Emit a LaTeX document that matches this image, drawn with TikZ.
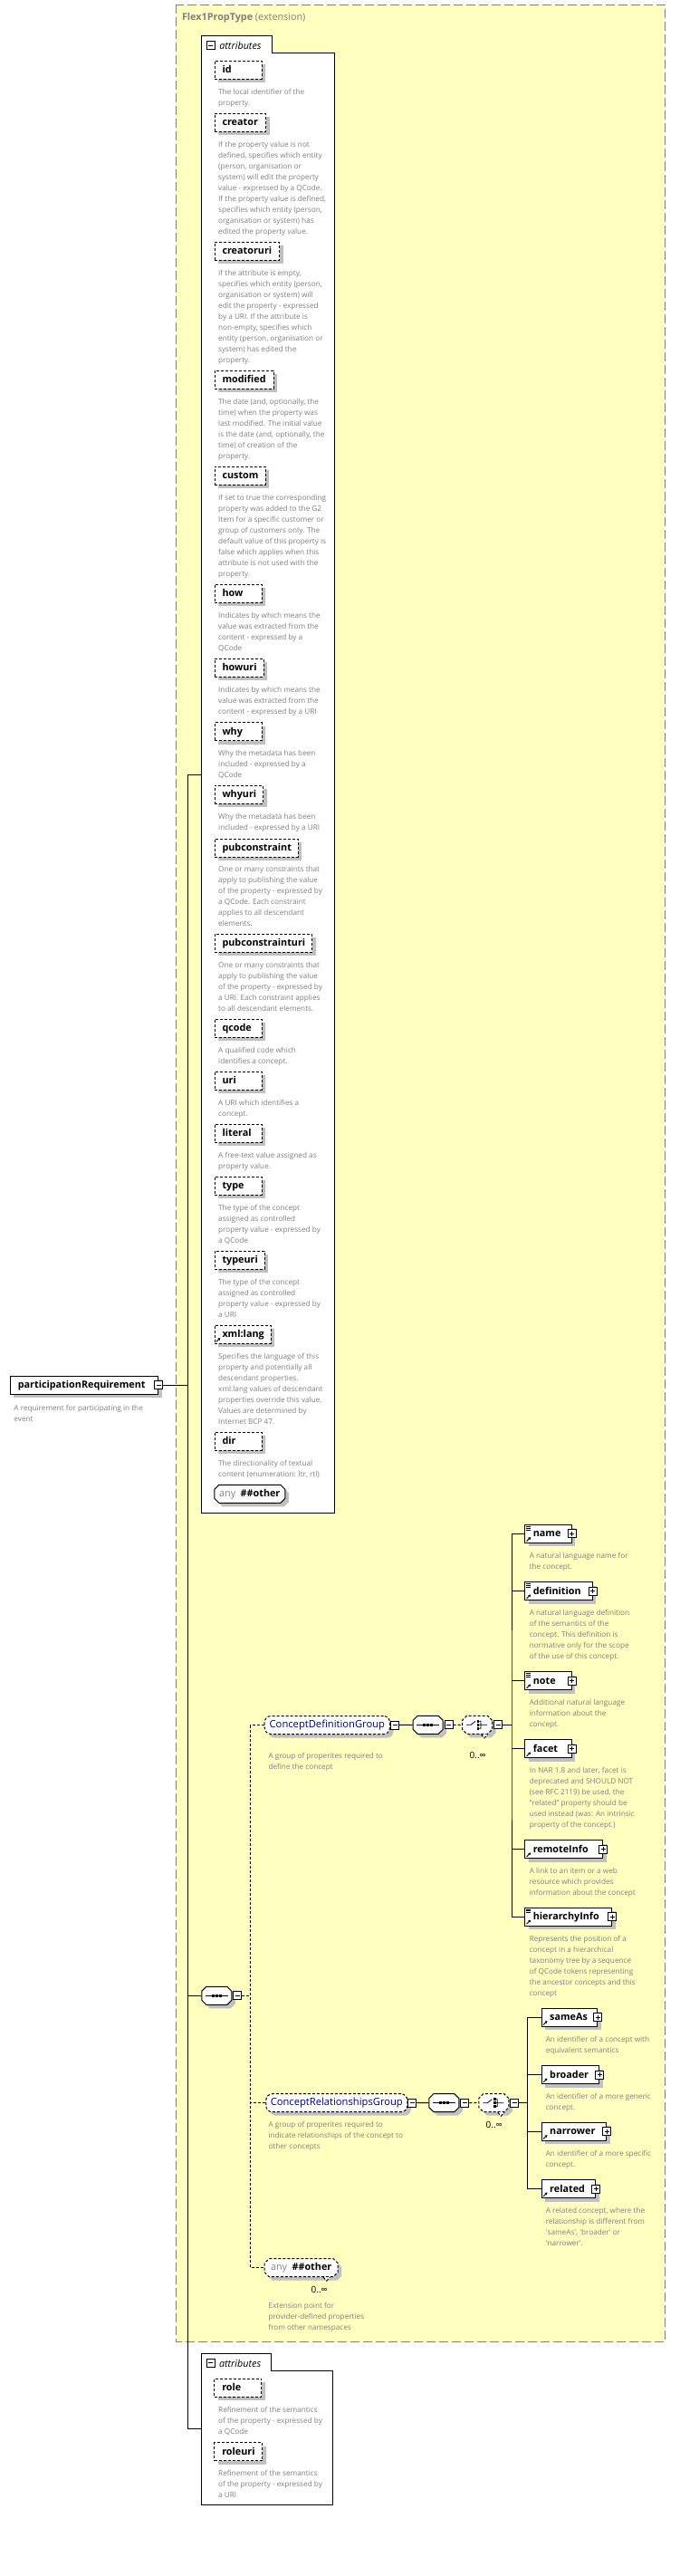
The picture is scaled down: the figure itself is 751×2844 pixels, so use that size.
\documentclass[tikz,border=0pt]{standalone}
\usepackage{fontspec}
\setmainfont{Open Sans}
\usetikzlibrary{shapes.misc,shadows,arrows.meta}
\hyphenpenalty=10000
\exhyphenpenalty=10000
\definecolor{panelyellow}{RGB}{255,255,192}
\definecolor{framegray}{RGB}{128,128,128}
\definecolor{descgray}{RGB}{128,128,128}
\definecolor{shadowgray}{RGB}{192,192,192}
\definecolor{groupblue}{RGB}{0,0,128}

\begin{document}
\begin{tikzpicture}[x=1pt, y=-1pt, line width=1pt,
    optional/.style ={dash pattern=on 3pt off 2pt},
    shadowed/.style ={drop shadow={shadow xshift=4pt, shadow yshift=-4pt, fill=shadowgray, opacity=1}},
    namefont/.style ={font=\bfseries\fontsize{10.8}{13}\selectfont},
    desc/.style ={anchor=north west, inner sep=0, align=left, text=descgray, font=\fontsize{8.2}{12}\selectfont},
    attrib/.style ={draw, optional, fill=white, shadowed, namefont, anchor=west, minimum height=20, inner xsep=8.5, inner ysep=0, text height=9, text depth=2, text width=#1, align=left},
    refmark/.style ={path picture={\draw[solid, black, line width=.9pt, -{Triangle[length=2.4pt,width=3pt]}] ([xshift=1.8pt,yshift=1.8pt]path picture bounding box.south west) -- ++(4.4pt,4.4pt);}},
    docmark/.style ={path picture={\draw[solid, black, line width=.9pt, -{Triangle[length=2.4pt,width=3pt]}] ([xshift=1.8pt,yshift=1.8pt]path picture bounding box.south west) -- ++(4.4pt,4.4pt);
        \draw[solid, black, line width=.7pt] ([xshift=1.5pt,yshift=-2pt]path picture bounding box.north west) -- ++(5pt,0pt) ++(-5pt,-1.8pt) -- ++(5pt,0pt) ++(-5pt,-1.8pt) -- ++(5pt,0pt);}},
    elbox/.style ={draw, solid, fill=white, shadowed, namefont, anchor=west, minimum height=20, inner xsep=9, inner ysep=0, text height=9, text depth=2, text width=#1, align=left},
    element/.style ={elbox=#1, refmark},
    elementdoc/.style ={elbox=#1, docmark},
    expander/.style ={draw, solid, fill=white, minimum size=9, inner sep=0},
    minus/.style ={expander, path picture={\draw[solid, black, line width=.8pt] ([xshift=2pt]path picture bounding box.west) -- ([xshift=-2pt]path picture bounding box.east);}},
    plus/.style ={expander, path picture={\draw[solid, black, line width=.8pt] ([xshift=2pt]path picture bounding box.west) -- ([xshift=-2pt]path picture bounding box.east) ([yshift=2pt]path picture bounding box.south) -- ([yshift=-2pt]path picture bounding box.north);}},
    compositor/.style ={chamfered rectangle, chamfered rectangle sep=5pt, draw, fill=white, shadowed, anchor=west, minimum width=33, minimum height=20, inner sep=0, text height=9, text depth=2},
    sequence/.style ={compositor, solid, path picture={\draw[solid, black, line width=.8pt] ([xshift=4pt]path picture bounding box.west) -- ([xshift=-4pt]path picture bounding box.east);
        \fill[black] ([xshift=-4pt]path picture bounding box.center) +(-1.3pt,-1.3pt) rectangle +(1.3pt,1.3pt);
        \fill[black] (path picture bounding box.center) +(-1.3pt,-1.3pt) rectangle +(1.3pt,1.3pt);
        \fill[black] ([xshift=4pt]path picture bounding box.center) +(-1.3pt,-1.3pt) rectangle +(1.3pt,1.3pt);}},
    choice/.style ={compositor, optional, path picture={\draw[solid, black, line width=.8pt] ([xshift=-12pt]path picture bounding box.center) -- ++(5pt,0pt) -- ++(5pt,4pt)
        ([xshift=1pt,yshift=4pt]path picture bounding box.center) -- ++(3pt,0pt) -- ++(0pt,-8pt) -- ++(-3pt,0pt)
        ([xshift=1pt]path picture bounding box.center) -- ++(10pt,0pt);
        \fill[black] ([xshift=1pt,yshift=4pt]path picture bounding box.center) +(-1.3pt,-1.3pt) rectangle +(1.3pt,1.3pt);
        \fill[black] ([xshift=1pt]path picture bounding box.center) +(-1.3pt,-1.3pt) rectangle +(1.3pt,1.3pt);
        \fill[black] ([xshift=1pt,yshift=-4pt]path picture bounding box.center) +(-1.3pt,-1.3pt) rectangle +(1.3pt,1.3pt);}},
    group/.style ={draw, optional, rounded corners=7, fill=white, shadowed, anchor=west, minimum height=20, inner xsep=2, text height=9, text depth=2.5, text=groupblue, font=\fontsize{11.2}{13}\selectfont},
    wildcard/.style ={chamfered rectangle, chamfered rectangle sep=2.5pt, draw, fill=white, shadowed, anchor=west, minimum height=20, inner xsep=2, inner ysep=0, text height=9, text depth=2.5, font=\fontsize{10.8}{13}\selectfont},
    tabtext/.style ={anchor=west, inner sep=0, font=\itshape\fontsize{10.8}{13}\selectfont},
    count/.style ={inner sep=0, font=\fontsize{10}{12}\selectfont}]

   \useasboundingbox (0,0) rectangle (751,2844);

   % extension panel
   \draw[framegray, dash pattern=on 10pt off 4pt, fill=panelyellow] (194,5.5) rectangle (734,2585);
   \node[anchor=west, inner sep=0, text=framegray, font=\fontsize{10.8}{13}\selectfont] (ptype) at (200.5,20) {\textbf{Flex1PropType} (extension)};

   % attributes of Flex1PropType
   \draw[fill=white] (222.3,39.3) -- (300,39.3) -- (300,58.3) -- (369,58.3) -- (369,1670) -- (222.3,1670) -- cycle;
   \node[minus] (attrs-x) at (232.5,50) {};
   \node[tabtext] (attrs) at (241.8,50) {attributes};

   \node[attrib=35] (id) at (236.5,77.5) {id};
   \node[desc] (id-d) at (240.7,97.7) {The local identifier of the\\property.};
   \node[attrib=39.5] (creator) at (236.5,135.5) {creator};
   \node[desc] (creator-d) at (240.7,156) {If the property value is not\\defined, specifies which entity\\(person, organisation or\\system) will edit the property\\value - expressed by a QCode.\\If the property value is defined,\\specifies which entity (person,\\organisation or system) has\\edited the property value.};
   \node[attrib=54.5] (creatoruri) at (236.5,277.5) {creatoruri};
   \node[desc] (creatoruri-d) at (240.7,297.7) {If the attribute is empty,\\specifies which entity (person,\\organisation or system) will\\edit the property - expressed\\by a URI. If the attribute is\\non-empty, specifies which\\entity (person, organisation or\\system) has edited the\\property.};
   \node[attrib=48] (modified) at (236.5,419.3) {modified};
   \node[desc] (modified-d) at (240.7,440) {The date (and, optionally, the\\time) when the property was\\last modified. The initial value\\is the date (and, optionally, the\\time) of creation of the\\property.};
   \node[attrib=39] (custom) at (236.5,525.3) {custom};
   \node[desc] (custom-d) at (240.7,545.7) {If set to true the corresponding\\property was added to the G2\\Item for a specific customer or\\group of customers only. The\\default value of this property is\\false which applies when this\\attribute is not used with the\\property.};
   \node[attrib=35] (how) at (236.5,655.3) {how};
   \node[desc] (how-d) at (240.7,675.7) {Indicates by which means the\\value was extracted from the\\content - expressed by a\\QCode};
   \node[attrib=37] (howuri) at (236.5,737.3) {howuri};
   \node[desc] (howuri-d) at (240.7,757.7) {Indicates by which means the\\value was extracted from the\\content - expressed by a URI};
   \node[attrib=35] (why) at (236.5,807.7) {why};
   \node[desc] (why-d) at (240.7,827.7) {Why the metadata has been\\included - expressed by a\\QCode};
   \node[attrib=36.5] (whyuri) at (236.5,877.3) {whyuri};
   \node[desc] (whyuri-d) at (240.7,897.7) {Why the metadata has been\\included - expressed by a URI};
   \node[attrib=75] (pubconstraint) at (236.5,936) {pubconstraint};
   \node[desc] (pubconstraint-d) at (240.7,955.7) {One or many constraints that\\apply to publishing the value\\of the property - expressed by\\a QCode. Each constraint\\applies to all descendant\\elements.};
   \node[attrib=90.5] (pubconstrainturi) at (236.5,1041.3) {pubconstrainturi};
   \node[desc] (pubconstrainturi-d) at (240.7,1061.7) {One or many constraints that\\apply to publishing the value\\of the property - expressed by\\a URI. Each constraint applies\\to all descendant elements.};
   \node[attrib=35] (qcode) at (236.5,1135.3) {qcode};
   \node[desc] (qcode-d) at (240.7,1155.7) {A qualified code which\\identifies a concept.};
   \node[attrib=35] (uri) at (236.5,1193.3) {uri};
   \node[desc] (uri-d) at (240.7,1213.7) {A URI which identifies a\\concept.};
   \node[attrib=35] (literal) at (236.5,1251.3) {literal};
   \node[desc] (literal-d) at (240.7,1271.7) {A free-text value assigned as\\property value.};
   \node[attrib=35] (type) at (236.5,1309.3) {type};
   \node[desc] (type-d) at (240.7,1329.7) {The type of the concept\\assigned as controlled\\property value - expressed by\\a QCode};
   \node[attrib=38] (typeuri) at (236.5,1391.3) {typeuri};
   \node[desc] (typeuri-d) at (240.7,1411.7) {The type of the concept\\assigned as controlled\\property value - expressed by\\a URI};
   \node[attrib=45, refmark] (xmllang) at (236.5,1473.3) {xml:lang};
   \node[desc] (xmllang-d) at (240.7,1493.7) {Specifies the language of this\\property and potentially all\\descendant properties.\\xml:lang values of descendant\\properties override this value.\\Values are determined by\\Internet BCP 47.};
   \node[attrib=35] (dir) at (236.5,1591.3) {dir};
   \node[desc] (dir-d) at (240.7,1611.7) {The directionality of textual\\content (enumeration: ltr, rtl)};
   \node[wildcard, solid, minimum width=78] (anyattr) at (236.3,1649.3) {\textcolor{descgray}{any}\enspace\textbf{\#\#other}};

   % the element
   \node[elbox=146.4, inner xsep=8.6] (partreq) at (10.7,1529.3) {participationRequirement};
   \node[minus] (partreq-x) at (partreq.east) {};
   \node[desc] (partreq-d) at (15,1550.3) {A requirement for participating in the\\event};

   % sequence and its members
   \node[sequence] (seq) at (222.3,2203.3) {};
   \node[minus, anchor=west] (seq-x) at ([xshift=1pt]seq.east) {};

   \node[group, minimum width=138.3] (cdg) at (291.7,1904.5) {ConceptDefinitionGroup};
   \node[minus, anchor=west] (cdg-x) at (cdg.east) {};
   \node[desc] (cdg-d) at (296,1934.3) {A group of properites required to\\define the concept};
   \node[sequence] (cdgseq) at (455.7,1904.3) {};
   \node[minus, anchor=west] (cdgseq-x) at ([xshift=1pt]cdgseq.east) {};
   \node[choice] (cdgch) at (510,1904.3) {};
   \node[minus, anchor=west] (cdgch-x) at ([xshift=1pt]cdgch.east) {};
   \draw[optional, fill=white] ([xshift=4.5pt]cdgch.south) -- ++(3.5pt,-4pt) -- ++(3.5pt,4pt);
   \node[count] (cdgch-n) at (527.7,1938.3) {0..∞};

   \node[elementdoc=33.4] (name) at (579.3,1693.3) {name};
   \node[plus] (name-x) at (name.east) {};
   \node[desc] (name-d) at (584.3,1713.7) {A natural language name for\\the concept.};
   \node[elementdoc=56.2] (definition) at (579.3,1756.7) {definition};
   \node[plus] (definition-x) at (definition.east) {};
   \node[desc] (definition-d) at (584.3,1777) {A natural language definition\\of the semantics of the\\concept. This definition is\\normative only for the scope\\of the use of this concept.};
   \node[elementdoc=33.4] (note) at (579.3,1855.7) {note};
   \node[plus] (note-x) at (note.east) {};
   \node[desc] (note-d) at (584.3,1876) {Additional natural language\\information about the\\concept.};
   \node[element=33.4] (facet) at (579.3,1930.7) {facet};
   \node[plus] (facet-x) at (facet.east) {};
   \node[desc] (facet-d) at (584.3,1951) {In NAR 1.8 and later, facet is\\deprecated and SHOULD NOT\\(see RFC 2119) be used, the\\"related" property should be\\used instead (was: An intrinsic\\property of the concept.)};
   \node[element=67.7] (remoteInfo) at (579.3,2041.7) {remoteInfo};
   \node[plus] (remoteInfo-x) at (remoteInfo.east) {};
   \node[desc] (remoteInfo-d) at (584.3,2061.7) {A link to an item or a web\\resource which provides\\information about the concept};
   \node[elementdoc=78] (hierarchyInfo) at (579.3,2116) {hierarchyInfo};
   \node[plus] (hierarchyInfo-x) at (hierarchyInfo.east) {};
   \node[desc] (hierarchyInfo-d) at (584.3,2137) {Represents the position of a\\concept in a hierarchical\\taxonomy tree by a sequence\\of QCode tokens representing\\the ancestor concepts and this\\concept};

   \node[group, minimum width=156] (crg) at (293.3,2321.7) {ConceptRelationshipsGroup};
   \node[minus, anchor=west] (crg-x) at (crg.east) {};
   \node[desc] (crg-d) at (296,2342) {A group of properites required to\\indicate relationships of the concept to\\other concepts};
   \node[sequence] (crgseq) at (473.3,2321.7) {};
   \node[minus, anchor=west] (crgseq-x) at ([xshift=1pt]crgseq.east) {};
   \node[choice] (crgch) at (528.3,2321.7) {};
   \node[minus, anchor=west] (crgch-x) at ([xshift=1pt]crgch.east) {};
   \draw[optional, fill=white] ([xshift=4.5pt]crgch.south) -- ++(3.5pt,-4pt) -- ++(3.5pt,4pt);
   \node[count] (crgch-n) at (545.7,2345.7) {0..∞};

   \node[element=43.6] (sameAs) at (597.7,2227.3) {sameAs};
   \node[plus] (sameAs-x) at (sameAs.east) {};
   \node[desc] (sameAs-d) at (602.3,2247.7) {An identifier of a concept with\\equivalent semantics};
   \node[element=45.6] (broader) at (597.7,2290.7) {broader};
   \node[plus] (broader-x) at (broader.east) {};
   \node[desc] (broader-d) at (602.3,2310.3) {An identifier of a more generic\\concept.};
   \node[element=53.6] (narrower) at (597.7,2353.3) {narrower};
   \node[plus] (narrower-x) at (narrower.east) {};
   \node[desc] (narrower-d) at (602.3,2373.7) {An identifier of a more specific\\concept.};
   \node[element=41.6] (related) at (597.7,2416.7) {related};
   \node[plus] (related-x) at (related.east) {};
   \node[desc] (related-d) at (602.3,2437) {A related concept, where the\\relationship is different from\\\textquotesingle sameAs\textquotesingle, \textquotesingle broader\textquotesingle{} or\\\textquotesingle narrower\textquotesingle.};

   \node[wildcard, optional, minimum width=81] (anyel) at (291.7,2503.7) {\textcolor{descgray}{any}\enspace\textbf{\#\#other}};
   \draw[optional, fill=white] ([xshift=24.5pt]anyel.south) -- ++(3.5pt,-4pt) -- ++(3.5pt,4pt);
   \node[count] (anyel-n) at (352.7,2527.7) {0..∞};
   \node[desc] (anyel-d) at (296,2541.3) {Extension point for\\provider-defined properties\\from other namespaces};

   % attributes of the element
   \draw[fill=white] (222.3,2598.3) -- (299.3,2598.3) -- (299.3,2617.3) -- (367.3,2617.3) -- (367.3,2765.3) -- (222.3,2765.3) -- cycle;
   \node[minus] (roles-x) at (232.5,2608.7) {};
   \node[tabtext] (roles) at (241.5,2609) {attributes};
   \node[attrib=35] (role) at (236.3,2636.3) {role};
   \node[desc] (role-d) at (240.7,2657) {Refinement of the semantics\\of the property - expressed by\\a QCode};
   \node[attrib=36] (roleuri) at (236.3,2706.7) {roleuri};
   \node[desc] (roleuri-d) at (240.7,2726.7) {Refinement of the semantics\\of the property - expressed by\\a URI};

   % connectors
   \coordinate (attrs1) at (222.3,855);
   \coordinate (trunk) at (207.5,2681.7);
   \coordinate (attrs2) at (222.3,2681.7);
   \coordinate (bus) at (276.7,2203.3);
   \coordinate (br1) at (565,1904.3);
   \coordinate (br2) at (582.3,2321.7);

   \draw (attrs1) -| (trunk) -- (attrs2);
   \draw (partreq-x.east) -- (partreq-x.east -| trunk);
   \draw (seq.west) -- (seq.west -| trunk);
   \draw[optional] (seq-x.east) -- (bus);
   \draw[optional] (cdg.west) -| (bus) |- (anyel.west);
   \draw[optional] (crg.west) -- (crg.west -| bus);

   \draw (cdg-x) -- (cdgseq);
   \draw[optional] (cdgseq-x) -- (cdgch);
   \draw (cdgch-x.east) -- (br1);
   \draw (name.west) -| (br1) |- (hierarchyInfo.west);
   \draw (definition.west) -- (definition.west -| br1);
   \draw (note.west) -- (note.west -| br1);
   \draw (facet.west) -- (facet.west -| br1);
   \draw (remoteInfo.west) -- (remoteInfo.west -| br1);

   \draw (crg-x) -- (crgseq);
   \draw[optional] (crgseq-x) -- (crgch);
   \draw (crgch-x.east) -- (br2);
   \draw (sameAs.west) -| (br2) |- (related.west);
   \draw (broader.west) -- (broader.west -| br2);
   \draw (narrower.west) -- (narrower.west -| br2);
\end{tikzpicture}
\end{document}
